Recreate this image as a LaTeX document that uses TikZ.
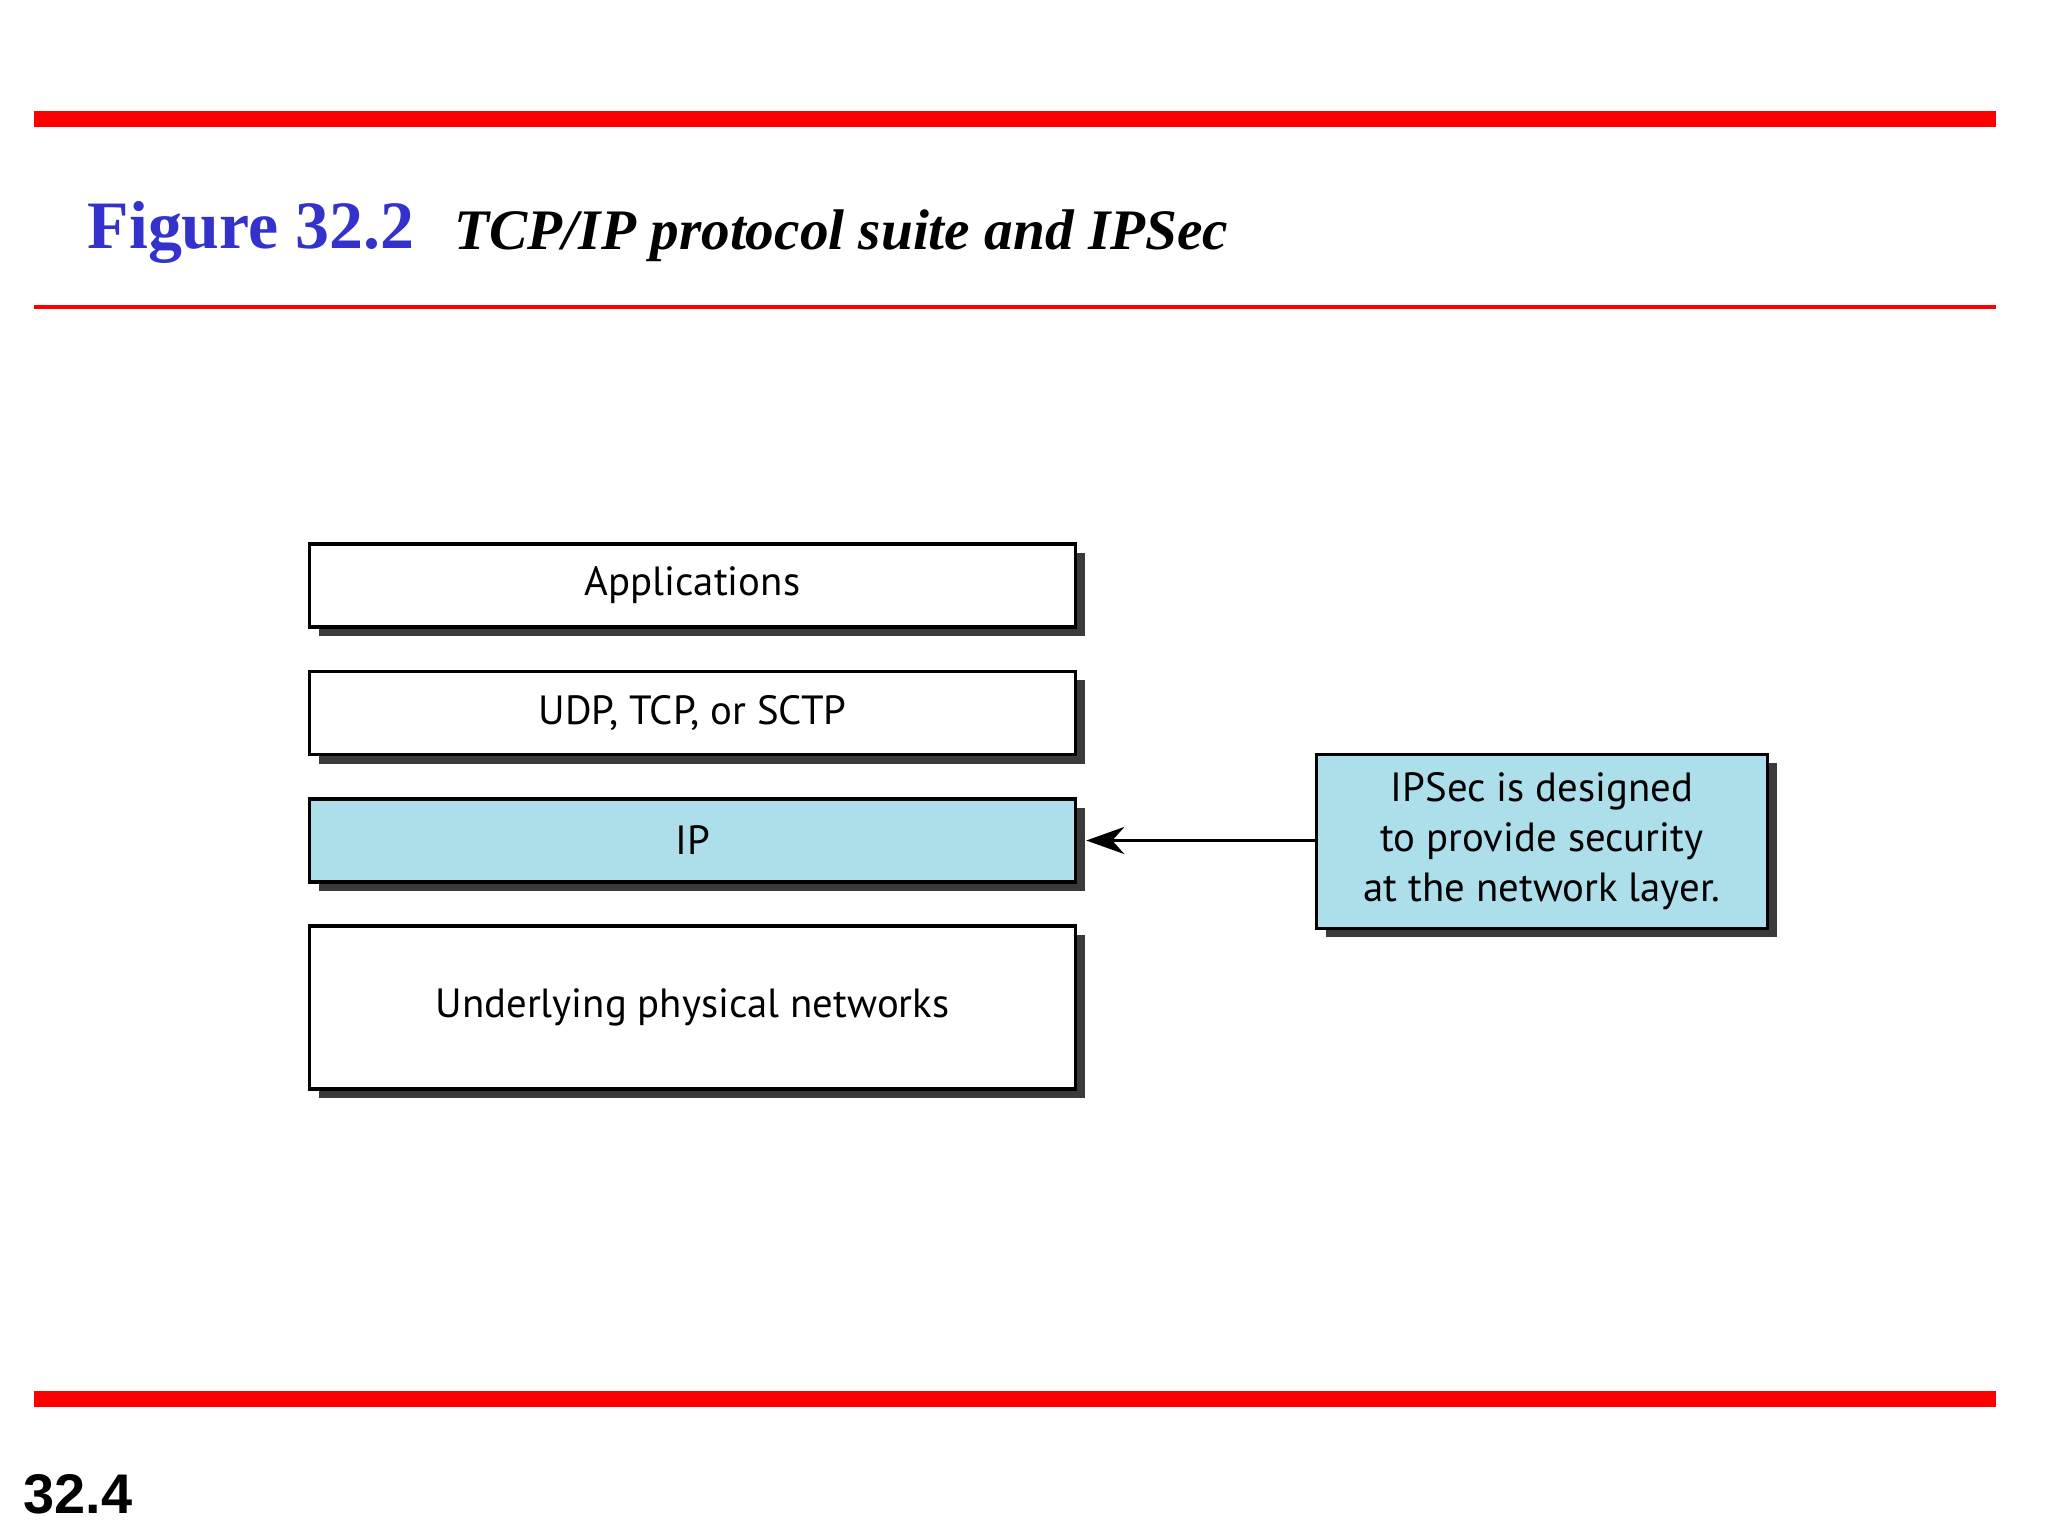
\documentclass[tikz,border=0pt]{standalone}
\usepackage{fontspec}
\setmainfont{Liberation Serif}
\newfontfamily\layerfont{PT Sans}
\newfontfamily\pagefont{Liberation Sans}
\usetikzlibrary{arrows.meta,shadows}
\definecolor{figblue}{RGB}{51,51,204}
\definecolor{ipblue}{RGB}{173,223,235}
\definecolor{shadowgray}{RGB}{58,58,58}
\tikzset{
  layer/.style={draw, line width=1pt, fill=white, minimum width=7.66cm, minimum height=0.83cm,
    inner sep=0pt, align=center, font=\layerfont\fontsize{11.6}{14.2}\selectfont,
    drop shadow={shadow xshift=0.09cm, shadow yshift=-0.09cm, fill=shadowgray, opacity=1}},
  redbar/.style={fill=red, draw=none}
}
\begin{document}
\begin{tikzpicture}
    \useasboundingbox (0,0) rectangle (20.48,-15.36);
    % page frame
    \fill[redbar] (0.34,-1.11) rectangle (19.96,-1.27);
    \fill[redbar] (0.34,-3.05) rectangle (19.96,-3.09);
    \fill[redbar] (0.34,-13.91) rectangle (19.96,-14.07);
    \node[anchor=base west, inner sep=0pt, text=figblue, font=\bfseries\fontsize{19.3}{22}\selectfont] (fignum) at (0.87,-2.49) {Figure 32.2};
    \node[anchor=base west, inner sep=0pt, font=\bfseries\itshape\fontsize{16.3}{20}\selectfont] (figtitle) at (4.54,-2.50) {TCP/IP protocol suite and IPSec};
    \node[anchor=base west, inner sep=0pt, font=\pagefont\bfseries\fontsize{15.9}{18}\selectfont] (pagenum) at (0.23,-15.13) {32.4};
    % protocol layers
    \node[layer] (app) at (6.925,-5.855) {Applications};
    \node[layer] (trans) at (6.925,-7.13) {UDP, TCP, or SCTP};
    \node[layer, fill=ipblue] (ip) at (6.925,-8.405) {IP};
    \node[layer, minimum height=1.63cm] (phys) at (6.925,-10.075) {Underlying physical networks};
    \node[layer, fill=ipblue, minimum width=4.51cm, minimum height=1.74cm] (ipsec) at (15.42,-8.415) {IPSec is designed\\to provide security\\at the network layer.};
    \draw[-{Stealth[length=0.38cm, width=0.27cm, inset=0.12cm]}, line width=1pt] (ipsec.west |- ip.east) -- ([xshift=0.09cm]ip.east);
\end{tikzpicture}
\end{document}
